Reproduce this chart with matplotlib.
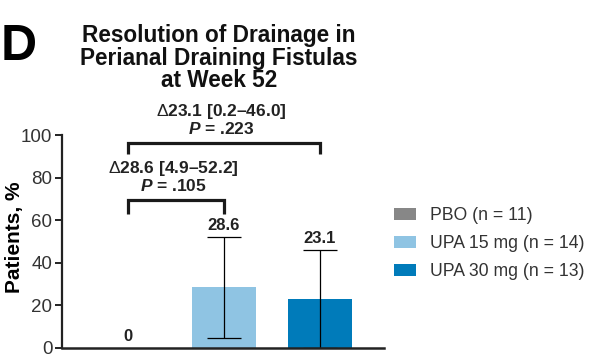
import matplotlib
matplotlib.use("Agg")
import matplotlib.pyplot as plt
from matplotlib.patches import Patch

plt.rcParams['font.family'] = ['Liberation Sans', 'DejaVu Sans']
plt.rcParams['mathtext.fontset'] = 'custom'
plt.rcParams['mathtext.rm'] = 'Liberation Sans'
plt.rcParams['mathtext.it'] = 'Liberation Sans:italic'
plt.rcParams['mathtext.bf'] = 'Liberation Sans:bold'
plt.rcParams['mathtext.bfit'] = 'Liberation Sans:bold:italic'

groups = ["PBO (n = 11)", "UPA 15 mg (n = 14)", "UPA 30 mg (n = 13)"]
values = [0.0, 28.6, 23.1]
ci_low = [None, 4.9, 0.2]
ci_high = [None, 52.2, 46.0]
value_labels = ["0", "28.6", "23.1"]
colors = ["#878787", "#8fc4e3", "#007bba"]
yticks = [0, 20, 40, 60, 80, 100]
comparisons = [
    (0, 1, "28.6 [4.9\u201352.2]", ".105", 69.5, 63.0),
    (0, 2, "23.1 [0.2\u201346.0]", ".223", 96.4, 91.0),
]

fig = plt.figure(figsize=(5.93, 3.62), dpi=100)
ax = fig.add_axes([62/593, 1-348/362, 322/593, 213/362])

x = list(range(len(values)))
ax.bar(x, values, width=0.67, color=colors, zorder=1)
for i in x:
    if ci_low[i] is not None:
        ax.errorbar(i, values[i], yerr=[[values[i]-ci_low[i]], [ci_high[i]-values[i]]],
                    fmt='none', ecolor='black', elinewidth=0.9, capsize=12, capthick=0.9, zorder=2)
    top = ci_high[i] if ci_high[i] is not None else values[i]
    ax.text(i, top + 1.8, value_labels[i], ha='center', va='bottom',
            fontsize=12, fontweight='bold', color='#222222')

for a, b, dtext, p, ybar, yleg in comparisons:
    ax.plot([a, a, b, b], [yleg, ybar, ybar, yleg], color='#1a1a1a', lw=2.3,
            solid_capstyle='butt', solid_joinstyle='miter', clip_on=False)
    cx = (a + b) / 2 - 0.03
    ax.text(cx, ybar + 2.8, r"$\mathbfit{P}$" + " = " + p, ha='center', va='bottom',
            fontsize=12.5, fontweight='bold', color='#222222', clip_on=False)
    ax.text(cx, ybar + 10.3, r"$\Delta$" + dtext, ha='center', va='bottom',
            fontsize=12.5, fontweight='bold', color='#222222', clip_on=False)

ax.set_xlim(-0.69, 2.67)
ax.set_ylim(0, 100)
ax.set_yticks(yticks)
ax.set_yticklabels([str(t) for t in yticks], fontsize=13.5, color='#333333')
ax.set_xticks([])
for s in ['top', 'right']:
    ax.spines[s].set_visible(False)
ax.spines['left'].set_linewidth(1.6)
ax.spines['bottom'].set_linewidth(1.8)
ax.spines['left'].set_color('#222222')
ax.spines['bottom'].set_color('#222222')
ax.tick_params(axis='y', length=5, width=1.4, pad=2, color='#222222')
ax.set_ylabel("Patients, %", fontsize=15, fontweight='bold')
ax.yaxis.set_label_coords(-38/322, 0.52)

fig.text(19/593, 1-46.5/362, "D", fontsize=36, fontweight='bold', ha='center', va='center')
fig.text(219/593, 1-24/362, "Resolution of Drainage in\nPerianal Draining Fistulas\nat Week 52",
         fontsize=16.3, fontweight='bold', ha='center', va='top', linespacing=0.98, color='#111111')

handles = [Patch(facecolor=c, edgecolor='none') for c in colors]
fig.legend(handles, groups, loc='center left', bbox_to_anchor=(378/593, 1-243.5/362),
           frameon=False, fontsize=12.7, handlelength=1.25, handleheight=0.7,
           handletextpad=0.8, labelspacing=0.62, labelcolor='#333333')

fig.savefig("out.png", dpi=100)
